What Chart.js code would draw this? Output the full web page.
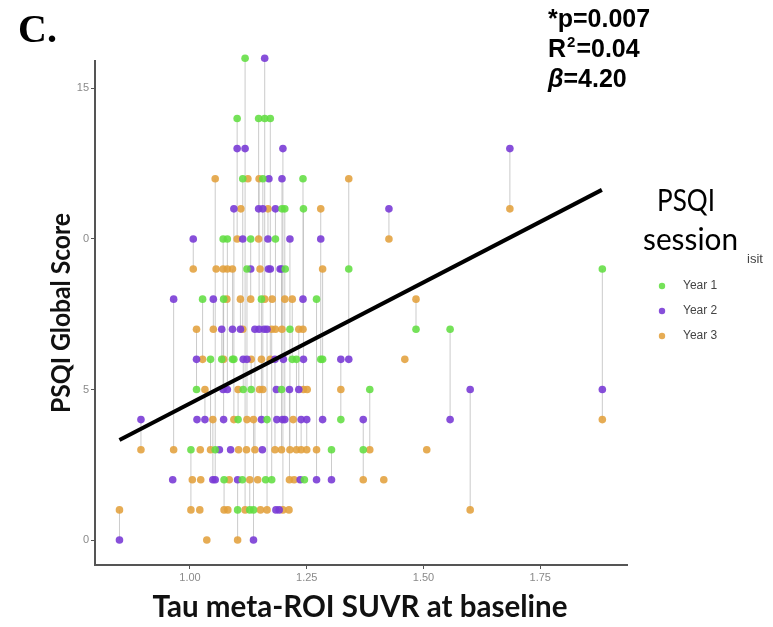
<!DOCTYPE html>
<html>
<head>
<meta charset="utf-8">
<script src="https://cdn.jsdelivr.net/npm/chart.js@4.4.1/dist/chart.umd.min.js"></script>
<style>
  html, body { margin: 0; background: #fff; }
  #wrap { position: relative; width: 773px; height: 627px; }
</style>
</head>
<body>
<div id="wrap"><canvas id="chart-psqi" width="773" height="627"></canvas></div>
<script>
// one entry per participant: baseline tau SUVR and PSQI score at each yearly visit (null = no visit)
const suvr = [0.849, 0.895, 0.963, 0.965, 1.002, 1.005, 1.007, 1.014, 1.015, 1.021,
  1.022, 1.023, 1.027, 1.032, 1.036, 1.044, 1.049, 1.050, 1.054, 1.056,
  1.063, 1.068, 1.071, 1.072, 1.073, 1.079, 1.080, 1.081, 1.084, 1.087,
  1.091, 1.094, 1.101, 1.102, 1.103, 1.104, 1.108, 1.109, 1.112, 1.113,
  1.114, 1.118, 1.121, 1.122, 1.124, 1.128, 1.130, 1.131, 1.136, 1.139,
  1.145, 1.147, 1.148, 1.149, 1.150, 1.151, 1.153, 1.155, 1.156, 1.159,
  1.160, 1.162, 1.165, 1.167, 1.168, 1.169, 1.172, 1.175, 1.176, 1.182,
  1.183, 1.184, 1.185, 1.186, 1.191, 1.193, 1.196, 1.197, 1.198, 1.199,
  1.200, 1.203, 1.204, 1.212, 1.213, 1.214, 1.219, 1.221, 1.223, 1.228,
  1.233, 1.236, 1.238, 1.242, 1.243, 1.245, 1.250, 1.251, 1.271, 1.280,
  1.284, 1.303, 1.323, 1.340, 1.371, 1.385, 1.415, 1.426, 1.460, 1.484,
  1.507, 1.557, 1.600, 1.685, 1.883];
const year1 = [null, null, null, null, 3, null, null, 5, null, null,
  null, null, 8, null, null, 6, null, null, 3, null,
  null, 6, 10, 8, 2, null, 10, null, null, null,
  6, 6, 14, 1, 4, null, null, null, 2, 12,
  5, 16, null, 9, null, 1, 10, 5, 1, null,
  null, 14, null, null, null, null, 8, null, 12, null,
  14, 2, 4, null, null, null, 14, 2, null, null,
  10, null, null, null, null, null, 5, 11, null, null,
  null, 11, 9, null, null, 7, 6, null, null, 6,
  null, null, null, 12, 11, 2, null, null, 8, 6,
  6, 3, 4, 9, 3, 5, null, null, null, 7,
  null, 7, null, null, 9];
const year2 = [0, 4, 2, 8, null, null, 10, 6, 4, null,
  null, null, null, 4, null, null, 2, 8, 2, null,
  3, 7, 5, 4, null, null, 5, null, null, 3,
  7, 11, 13, 2, null, null, 7, null, null, 10,
  6, 13, null, 6, null, null, 9, null, 0, 7,
  null, 11, 7, null, null, null, 4, 3, 11, 7,
  16, null, 7, 10, 9, 12, 9, null, null, 6,
  11, 1, 5, 4, 1, 9, 9, 12, 4, 13,
  6, 4, null, null, 5, 10, null, null, null, null,
  5, 2, 4, 8, 6, null, 4, null, 2, 10,
  4, 2, 6, 6, 4, null, null, 11, null, null,
  null, 4, 5, 13, 5];
const year3 = [1, 3, null, 3, 1, 2, 9, 7, null, 1,
  3, 2, 6, 5, 0, 3, 4, 7, 12, 9,
  null, null, 9, 6, 1, 8, 9, 1, 2, null,
  9, 4, 10, 0, 5, 3, 8, 11, null, 7,
  null, 1, 3, 4, 12, 2, 8, 6, 4, 3,
  2, 10, 12, 5, 9, 1, 6, null, 5, null,
  8, null, 1, 11, null, null, 6, 7, 8, 3,
  7, null, null, null, null, null, 3, 7, null, 1,
  null, 8, null, 1, 2, 3, 8, 4, 2, 3,
  7, null, 3, 7, 5, null, 3, 5, 3, 11,
  9, null, 5, 12, 2, 3, 2, 10, 6, 8,
  3, null, 1, 11, 4];

const yearLabels = ['Year 1', 'Year 2', 'Year 3'];
const yearColors = ['rgba(98, 222, 66, 0.88)', 'rgba(122, 60, 214, 0.9)', 'rgba(226, 160, 60, 0.88)'];
const fitSuvr = [0.849, 1.882];
const fitScore = [3.32, 11.63];
const xTicks = [1.00, 1.25, 1.50, 1.75];
const yTicks = [0, 5, 10, 15];
const yTickText = ['0', '5', '0', '15'];

const years = [year1, year2, year3];

const pointsFor = (scores) =>
  suvr.map((x, i) => ({ x, y: scores[i] })).filter(p => p.y !== null);

// one vertical segment per participant, broken with a null point
const connectors = [];
suvr.forEach((x, i) => {
  const s = years.map(yr => yr[i]).filter(v => v !== null);
  if (s.length > 1) {
    connectors.push({ x, y: Math.min(...s) }, { x, y: Math.max(...s) }, { x, y: null });
  }
});

const textPlugin = {
  id: 'texts',
  afterDraw(chart) {
    const ctx = chart.ctx;
    ctx.save();
    ctx.fillStyle = '#000';
    ctx.textAlign = 'left';
    ctx.textBaseline = 'alphabetic';

    ctx.font = 'bold 40px "Liberation Serif"';
    ctx.fillText('C.', 18, 42);

    ctx.font = 'bold 25px "Liberation Sans"';
    ctx.fillText('*p=0.007', 548, 27);
    ctx.fillText('R', 548, 57);
    let w = ctx.measureText('R').width;
    ctx.font = 'bold 15px "Liberation Sans"';
    ctx.fillText('2', 548 + w + 1, 47);
    let w2 = ctx.measureText('2').width;
    ctx.font = 'bold 25px "Liberation Sans"';
    ctx.fillText('=0.04', 548 + w + w2 + 2, 57);
    ctx.font = 'italic bold 25px "Liberation Sans"';
    ctx.fillText('\u03B2', 548, 87);
    w = ctx.measureText('\u03B2').width;
    ctx.font = 'bold 25px "Liberation Sans"';
    ctx.fillText('=4.20', 548 + w, 87);

    ctx.font = '30px Lato';
    ctx.fillText('PSQI', 657, 211, 58);
    ctx.fillText('session', 643, 250, 95);

    ctx.fillStyle = '#444';
    ctx.font = '13px "Liberation Sans"';
    ctx.fillText('isit', 747, 263);

    ctx.textBaseline = 'middle';
    ctx.font = '12px "Liberation Sans"';
    yearLabels.forEach((label, i) => {
      const y = 286 + i * 25;
      ctx.fillStyle = yearColors[i];
      ctx.beginPath();
      ctx.arc(662, y, 3.2, 0, Math.PI * 2);
      ctx.fill();
      ctx.fillStyle = '#444';
      ctx.fillText(label, 683, y);
    });

    ctx.fillStyle = '#111';
    ctx.textBaseline = 'alphabetic';
    ctx.textAlign = 'center';
    ctx.font = 'bold 30px Lato';
    ctx.fillText('Tau meta-ROI SUVR at baseline', 360, 617, 415);

    ctx.save();
    ctx.translate(70, 313);
    ctx.rotate(-Math.PI / 2);
    ctx.font = 'bold 27px Lato';
    ctx.fillText('PSQI Global Score', 0, 0, 200);
    ctx.restore();

    ctx.restore();
  }
};

const tickFont = { family: '"Liberation Sans"', size: 11 };

new Chart(document.getElementById('chart-psqi'), {
  type: 'scatter',
  data: {
    datasets: [
      {
        data: [{ x: fitSuvr[0], y: fitScore[0] }, { x: fitSuvr[1], y: fitScore[1] }],
        showLine: true,
        borderColor: '#000',
        borderWidth: 4,
        pointRadius: 0,
        order: 0,
        clip: false
      },
      ...years.map((scores, k) => ({
        label: yearLabels[k],
        data: pointsFor(scores),
        backgroundColor: yearColors[k],
        borderWidth: 0,
        pointRadius: 3.8,
        order: 1 + k,
        clip: false
      })),
      {
        data: connectors,
        showLine: true,
        spanGaps: false,
        borderColor: 'rgba(185, 185, 185, 0.75)',
        borderWidth: 1,
        pointRadius: 0,
        order: 10,
        clip: false
      }
    ]
  },
  options: {
    responsive: false,
    animation: false,
    layout: { padding: { top: 61, right: 146, left: 0, bottom: 0 } },
    plugins: { legend: { display: false }, tooltip: { enabled: false } },
    scales: {
      x: {
        type: 'linear',
        min: 0.7966,
        max: 1.9358,
        afterBuildTicks: s => { s.ticks = xTicks.map(v => ({ value: v })); },
        afterFit: s => { s.height = 62; },
        grid: { drawOnChartArea: false, tickLength: 4, color: '#555' },
        border: { color: '#555', width: 2 },
        ticks: { color: '#8a8a8a', font: tickFont, padding: 2, maxRotation: 0, callback: v => v.toFixed(2) }
      },
      y: {
        min: -0.83,
        max: 15.91,
        afterBuildTicks: s => { s.ticks = yTicks.map(v => ({ value: v })); },
        afterFit: s => { s.width = 95; },
        grid: { drawOnChartArea: false, tickLength: 4, color: '#555' },
        border: { color: '#555', width: 2 },
        ticks: { color: '#8a8a8a', font: tickFont, padding: 2, callback: v => yTickText[yTicks.indexOf(v)] }
      }
    }
  },
  plugins: [textPlugin]
});
</script>
</body>
</html>
